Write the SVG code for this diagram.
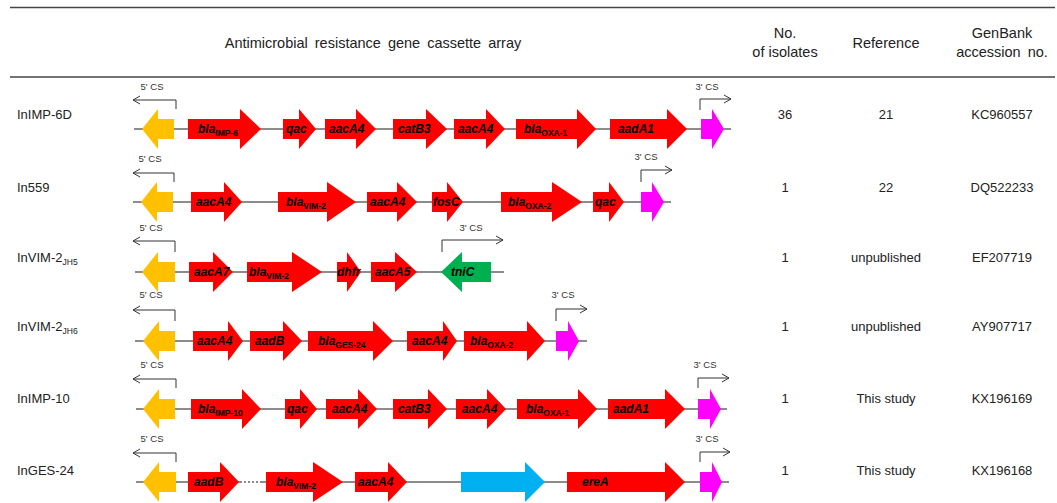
<svg xmlns="http://www.w3.org/2000/svg" width="1057" height="503" viewBox="0 0 1057 503">
<defs>
<marker id="open" markerWidth="10" markerHeight="10" refX="8" refY="5" orient="auto" markerUnits="userSpaceOnUse">
<path d="M1,1 L8,5 L1,9" fill="none" stroke="#333" stroke-width="1"/>
</marker>
</defs>
<style>
text{font-family:"Liberation Sans",Arial,sans-serif;fill:#222}
.hd{font-size:14.5px;text-anchor:middle}
.lab{font-size:13px}
.dat{font-size:13px;text-anchor:middle}
.cs{font-size:9.5px;text-anchor:middle;fill:#333}
.g{font-size:12px;font-weight:bold;font-style:italic;fill:#000}
.sub{font-size:8.5px;font-style:normal}
.bb{stroke:#666;stroke-width:1.5;fill:none}
.br{stroke:#333;stroke-width:1;fill:none;marker-end:url(#open)}
.red{fill:#ff0000}
.or{fill:#ffc000}
.pk{fill:#ff00ff}
.gr{fill:#00b050}
.bl{fill:#00b0f0}
.rule{stroke:#444;stroke-width:1.5}
</style>
<g id="header">
<line class="rule" x1="10" y1="7.5" x2="1055" y2="7.5"/>
<line class="rule" x1="10" y1="77" x2="1055" y2="77"/>
<text class="hd" x="373" y="48" word-spacing="3">Antimicrobial resistance gene cassette array</text>
<text class="hd" x="785" y="38">No.</text>
<text class="hd" x="785" y="57">of isolates</text>
<text class="hd" x="886" y="48">Reference</text>
<text class="hd" x="1002" y="38">GenBank</text>
<text class="hd" x="1002" y="57" word-spacing="3">accession no.</text>
</g>
<g id="row1">
<text class="lab" x="17" y="118.5">InIMP-6D</text>
<text class="dat" x="785" y="118.5">36</text>
<text class="dat" x="886" y="118.5">21</text>
<text class="dat" x="1002" y="118.5">KC960557</text>
<g transform="translate(0,129)">
<line class="bb" x1="134" y1="0" x2="731" y2="0"/>
<polygon class="or" points="174,-10 158,-10 158,-20 142,0 158,20 158,10 174,10"/>
<polygon class="red" points="188,-10 240,-10 240,-20 261,0 240,20 240,10 188,10"/>
<polygon class="red" points="283,-10 299,-10 299,-20 316,0 299,20 299,10 283,10"/>
<polygon class="red" points="325,-10 356,-10 356,-20 376,0 356,20 356,10 325,10"/>
<polygon class="red" points="393,-10 426,-10 426,-20 447,0 426,20 426,10 393,10"/>
<polygon class="red" points="454,-10 486,-10 486,-20 505,0 486,20 486,10 454,10"/>
<polygon class="red" points="516,-10 577,-10 577,-20 596,0 577,20 577,10 516,10"/>
<polygon class="red" points="610,-10 667,-10 667,-20 687,0 667,20 667,10 610,10"/>
<polygon class="pk" points="701,-10 712,-10 712,-20 724,0 712,20 712,10 701,10"/>
<path class="br" d="M176,-20 V-29 H133"/>
<path class="br" d="M700,-19 V-30 H731"/>
<text class="cs" x="152" y="-39">5' CS</text>
<text class="cs" x="707" y="-39">3' CS</text>
<text class="g" x="198" y="4">bla<tspan class="sub" dy="2.5">IMP-6</tspan></text>
<text class="g" x="286" y="4">qac</text>
<text class="g" x="329" y="4">aacA4</text>
<text class="g" x="398" y="4">catB3</text>
<text class="g" x="458" y="4">aacA4</text>
<text class="g" x="524" y="4">bla<tspan class="sub" dy="2.5">OXA-1</tspan></text>
<text class="g" x="618" y="4">aadA1</text>
</g>
</g>
<g id="row2">
<text class="lab" x="17" y="192">In559</text>
<text class="dat" x="785" y="192">1</text>
<text class="dat" x="886" y="192">22</text>
<text class="dat" x="1002" y="192">DQ522233</text>
<g transform="translate(0,202)">
<line class="bb" x1="133" y1="0" x2="671" y2="0"/>
<polygon class="or" points="173,-10 157,-10 157,-20 141,0 157,20 157,10 173,10"/>
<polygon class="red" points="191,-10 224,-10 224,-20 242,0 224,20 224,10 191,10"/>
<polygon class="red" points="278,-10 327,-10 327,-20 356,0 327,20 327,10 278,10"/>
<polygon class="red" points="367,-10 397,-10 397,-20 417,0 397,20 397,10 367,10"/>
<polygon class="red" points="432,-10 447,-10 447,-20 463,0 447,20 447,10 432,10"/>
<polygon class="red" points="501,-10 552,-10 552,-20 582,0 552,20 552,10 501,10"/>
<polygon class="red" points="593,-10 609,-10 609,-20 624,0 609,20 609,10 593,10"/>
<polygon class="pk" points="641,-10 652,-10 652,-20 664,0 652,20 652,10 641,10"/>
<path class="br" d="M174,-20 V-29 H133"/>
<path class="br" d="M641,-20 V-32 H672"/>
<text class="cs" x="150" y="-40">5' CS</text>
<text class="cs" x="646" y="-42">3' CS</text>
<text class="g" x="196" y="4">aacA4</text>
<text class="g" x="286" y="4">bla<tspan class="sub" dy="2.5">VIM-2</tspan></text>
<text class="g" x="370" y="4">aacA4</text>
<text class="g" x="433" y="4">fosC</text>
<text class="g" x="508" y="4">bla<tspan class="sub" dy="2.5">OXA-2</tspan></text>
<text class="g" x="595" y="4">qac</text>
</g>
</g>
<g id="row3">
<text class="lab" x="17" y="262">InVIM-2<tspan font-size="8.5" dy="3">JH5</tspan></text>
<text class="dat" x="785" y="262">1</text>
<text class="dat" x="886" y="262">unpublished</text>
<text class="dat" x="1002" y="262">EF207719</text>
<g transform="translate(0,272)">
<line class="bb" x1="135" y1="0" x2="504" y2="0"/>
<polygon class="or" points="175,-10 158,-10 158,-20 142,0 158,20 158,10 175,10"/>
<polygon class="red" points="189,-10 213,-10 213,-20 233,0 213,20 213,10 189,10"/>
<polygon class="red" points="247,-10 292,-10 292,-20 322,0 292,20 292,10 247,10"/>
<polygon class="red" points="337,-10 347,-10 347,-20 361,0 347,20 347,10 337,10"/>
<polygon class="red" points="371,-10 395,-10 395,-20 417,0 395,20 395,10 371,10"/>
<polygon class="gr" points="491,-10 462,-10 462,-20 441,0 462,20 462,10 491,10"/>
<path class="br" d="M175,-20 V-31 H133"/>
<path class="br" d="M442,-20 V-32 H503"/>
<text class="cs" x="151" y="-41">5' CS</text>
<text class="cs" x="471" y="-41">3' CS</text>
<text class="g" x="194" y="4">aacA7</text>
<text class="g" x="249" y="4">bla<tspan class="sub" dy="2.5">VIM-2</tspan></text>
<text class="g" x="337" y="4">dhfr</text>
<text class="g" x="375" y="4">aacA5</text>
<text class="g" x="451" y="4">tniC</text>
</g>
</g>
<g id="row4">
<text class="lab" x="17" y="331">InVIM-2<tspan font-size="8.5" dy="3">JH6</tspan></text>
<text class="dat" x="785" y="331">1</text>
<text class="dat" x="886" y="331">unpublished</text>
<text class="dat" x="1002" y="331">AY907717</text>
<g transform="translate(0,341)">
<line class="bb" x1="135" y1="0" x2="587" y2="0"/>
<polygon class="or" points="175,-10 159,-10 159,-20 143,0 159,20 159,10 175,10"/>
<polygon class="red" points="193,-10 228,-10 228,-20 243,0 228,20 228,10 193,10"/>
<polygon class="red" points="250,-10 283,-10 283,-20 302,0 283,20 283,10 250,10"/>
<polygon class="red" points="308,-10 373,-10 373,-20 393,0 373,20 373,10 308,10"/>
<polygon class="red" points="407,-10 443,-10 443,-20 457,0 443,20 443,10 407,10"/>
<polygon class="red" points="464,-10 527,-10 527,-20 545,0 527,20 527,10 464,10"/>
<polygon class="pk" points="556,-10 568,-10 568,-20 579,0 568,20 568,10 556,10"/>
<path class="br" d="M175,-20 V-31 H133"/>
<path class="br" d="M556,-20 V-32 H587"/>
<text class="cs" x="151" y="-43">5' CS</text>
<text class="cs" x="563" y="-43">3' CS</text>
<text class="g" x="197" y="4">aacA4</text>
<text class="g" x="255" y="4">aadB</text>
<text class="g" x="318" y="4">bla<tspan class="sub" dy="2.5">GES-24</tspan></text>
<text class="g" x="412" y="4">aacA4</text>
<text class="g" x="470" y="4">bla<tspan class="sub" dy="2.5">OXA-2</tspan></text>
</g>
</g>
<g id="row5">
<text class="lab" x="17" y="402.5">InIMP-10</text>
<text class="dat" x="785" y="402.5">1</text>
<text class="dat" x="886" y="402.5">This study</text>
<text class="dat" x="1002" y="402.5">KX196169</text>
<g transform="translate(0,409)">
<line class="bb" x1="136" y1="0" x2="727" y2="0"/>
<polygon class="or" points="175,-10 159,-10 159,-20 143,0 159,20 159,10 175,10"/>
<polygon class="red" points="191,-10 242,-10 242,-20 261,0 242,20 242,10 191,10"/>
<polygon class="red" points="285,-10 300,-10 300,-20 317,0 300,20 300,10 285,10"/>
<polygon class="red" points="326,-10 358,-10 358,-20 377,0 358,20 358,10 326,10"/>
<polygon class="red" points="393,-10 428,-10 428,-20 447,0 428,20 428,10 393,10"/>
<polygon class="red" points="456,-10 487,-10 487,-20 506,0 487,20 487,10 456,10"/>
<polygon class="red" points="517,-10 578,-10 578,-20 597,0 578,20 578,10 517,10"/>
<polygon class="red" points="608,-10 665,-10 665,-20 685,0 665,20 665,10 608,10"/>
<polygon class="pk" points="698,-10 710,-10 710,-20 721,0 710,20 710,10 698,10"/>
<path class="br" d="M176,-21 V-30 H133"/>
<path class="br" d="M698,-21 V-31 H729"/>
<text class="cs" x="152" y="-41">5' CS</text>
<text class="cs" x="705" y="-41">3' CS</text>
<text class="g" x="198" y="4">bla<tspan class="sub" dy="2.5">IMP-10</tspan></text>
<text class="g" x="287" y="4">qac</text>
<text class="g" x="332" y="4">aacA4</text>
<text class="g" x="398" y="4">catB3</text>
<text class="g" x="462" y="4">aacA4</text>
<text class="g" x="526" y="4">bla<tspan class="sub" dy="2.5">OXA-1</tspan></text>
<text class="g" x="613" y="4">aadA1</text>
</g>
</g>
<g id="row6">
<text class="lab" x="17" y="474.5">InGES-24</text>
<text class="dat" x="785" y="474.5">1</text>
<text class="dat" x="886" y="474.5">This study</text>
<text class="dat" x="1002" y="474.5">KX196168</text>
<g transform="translate(0,482)">
<line class="bb" x1="136" y1="0" x2="240" y2="0"/>
<line class="bb" x1="240" y1="0" x2="260" y2="0" stroke-dasharray="2,2"/>
<line class="bb" x1="260" y1="0" x2="729" y2="0"/>
<polygon class="or" points="176,-10 159,-10 159,-20 143,0 159,20 159,10 176,10"/>
<polygon class="red" points="188,-10 220,-10 220,-20 239,0 220,20 220,10 188,10"/>
<polygon class="red" points="266,-10 313,-10 313,-20 343,0 313,20 313,10 266,10"/>
<polygon class="red" points="355,-10 388,-10 388,-20 407,0 388,20 388,10 355,10"/>
<polygon class="bl" points="461,-10 525,-10 525,-20 545,0 525,20 525,10 461,10"/>
<polygon class="red" points="567,-10 665,-10 665,-20 685,0 665,20 665,10 567,10"/>
<polygon class="pk" points="700,-10 712,-10 712,-20 722,0 712,20 712,10 700,10"/>
<path class="br" d="M176,-20 V-29 H133"/>
<path class="br" d="M700,-20 V-30 H730"/>
<text class="cs" x="152" y="-40">5' CS</text>
<text class="cs" x="707" y="-40">3' CS</text>
<text class="g" x="194" y="4">aadB</text>
<text class="g" x="276" y="4">bla<tspan class="sub" dy="2.5">VIM-2</tspan></text>
<text class="g" x="358" y="4">aacA4</text>
<text class="g" x="582" y="4">ereA</text>
</g>
</g>
</svg>
